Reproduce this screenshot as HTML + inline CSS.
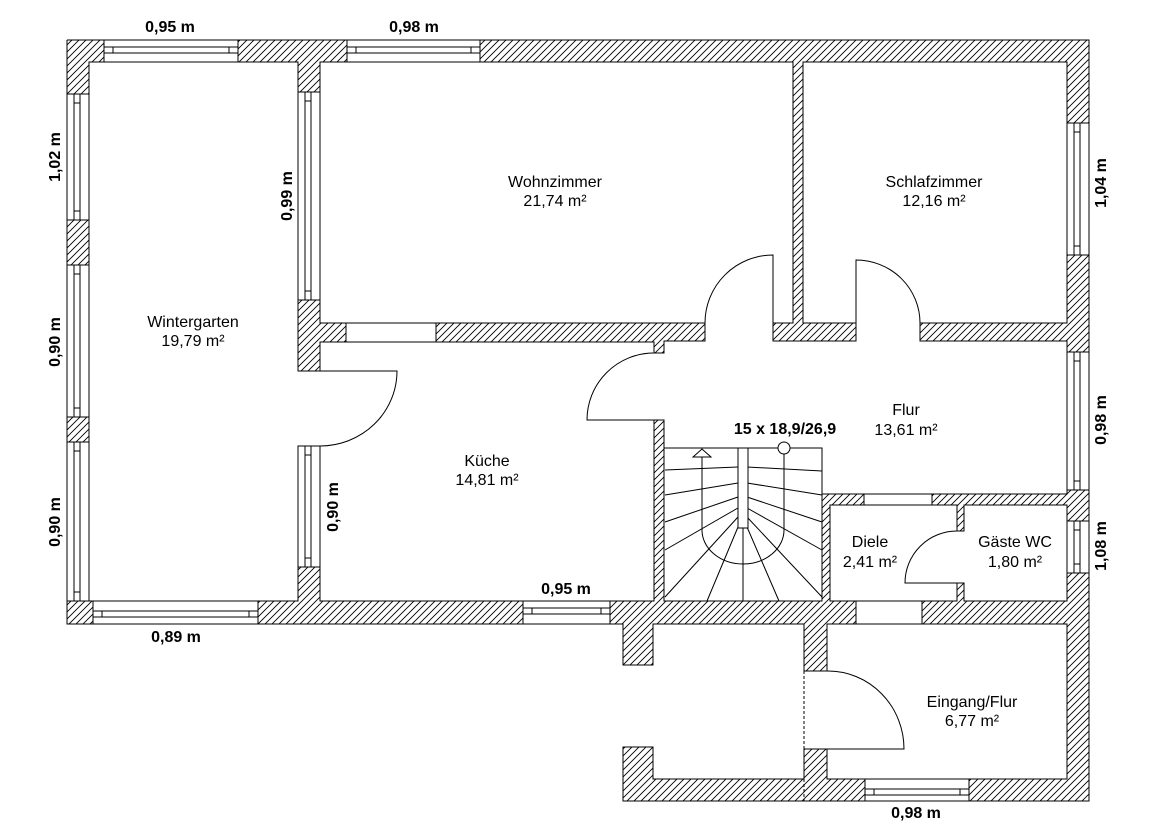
<!DOCTYPE html>
<html><head><meta charset="utf-8">
<style>
html,body{margin:0;padding:0;background:#fff;}
svg{display:block;}
.r{font-family:"Liberation Sans",sans-serif;font-size:16px;fill:#000;text-anchor:middle;}
.b{font-family:"Liberation Sans",sans-serif;font-size:16px;font-weight:bold;fill:#000;text-anchor:middle;}
</style></head>
<body>
<svg width="1154" height="828" viewBox="0 0 1154 828" xmlns="http://www.w3.org/2000/svg">
<defs>
<pattern id="h" patternUnits="userSpaceOnUse" width="7" height="7">
<path d="M-1,1 l2,-2 M0,7 l7,-7 M6,8 l2,-2" stroke="#000" stroke-width="0.9"/>
</pattern>
</defs>
<rect width="1154" height="828" fill="#fff"/>
<rect x="67" y="40" width="1022" height="584" fill="url(#h)"/>
<rect x="623" y="624" width="466" height="177" fill="url(#h)"/>
<rect x="653" y="624" width="151" height="155" fill="#fff"/>
<rect x="623" y="665" width="31" height="82" fill="#fff"/>

<g fill="#fff" stroke="#000" stroke-width="1" shape-rendering="crispEdges">
<rect x="89" y="62" width="209" height="539"/>
<rect x="320" y="62" width="473" height="261"/>
<rect x="803" y="62" width="264" height="261"/>
<rect x="320" y="342" width="334" height="259"/>
<path d="M664,341 H1067 V494 H822 V448 H664 Z"/>
<rect x="664" y="448" width="158" height="153"/>
<rect x="830" y="505" width="127" height="96"/>
<rect x="964" y="505" width="103" height="96"/>
<rect x="827" y="624" width="240" height="155"/>
</g>

<g fill="#fff" stroke="none">
<rect x="297" y="371.5" width="24" height="74"/>
<rect x="653" y="353.5" width="12" height="66"/>
<rect x="705.5" y="322" width="67" height="20"/>
<rect x="856.5" y="322" width="63" height="20"/>
<rect x="956" y="531.5" width="9" height="51"/>
<rect x="803" y="671.5" width="25" height="77"/>
</g>
<g stroke="#000" stroke-width="1" fill="none" shape-rendering="crispEdges">
<path d="M298,371H320 M298,446H320 M654,353H664 M654,420H664 M705,323V341 M773,323V341 M856,323V341 M920,323V341 M957,531H964 M957,583H964 M804,671H827 M804,749H827"/>
<path d="M804,671V749 M804,779V801" stroke-dasharray="3,2"/>
<rect x="346" y="323" width="90" height="19" fill="#fff"/>
<rect x="864" y="494" width="68" height="11" fill="#fff"/>
<rect x="856" y="601" width="66" height="23" fill="#fff"/>
</g>

<g stroke="#000" stroke-width="1" fill="#fff" shape-rendering="crispEdges">
<rect x="104" y="40" width="134" height="22"/><path d="M104,47H238 M104,53H238 M113,47V53 M229,47V53" fill="none"/>
<rect x="347" y="40" width="133" height="22"/><path d="M347,47H480 M347,53H480 M356,47V53 M471,47V53" fill="none"/>
<rect x="93" y="601" width="165" height="23"/><path d="M93,611H258 M93,617H258 M102,611V617 M249,611V617" fill="none"/>
<rect x="523" y="601" width="87" height="23"/><path d="M523,608H610 M523,614H610 M532,608V614 M601,608V614" fill="none"/>
<rect x="865" y="779" width="104" height="22"/><path d="M865,789H969 M865,795H969 M874,789V795 M960,789V795" fill="none"/>
<rect x="67" y="94" width="22" height="126"/><path d="M74,94V220 M80,94V220 M74,103H80 M74,211H80" fill="none"/>
<rect x="67" y="265" width="22" height="152"/><path d="M74,265V417 M80,265V417 M74,274H80 M74,408H80" fill="none"/>
<rect x="67" y="442" width="22" height="159"/><path d="M74,442V601 M80,442V601 M74,451H80 M74,592H80" fill="none"/>
<rect x="298" y="92" width="22" height="208"/><path d="M305,92V300 M311,92V300 M305,101H311 M305,291H311" fill="none"/>
<rect x="298" y="446" width="22" height="121"/><path d="M305,446V567 M311,446V567 M305,455H311 M305,558H311" fill="none"/>
<rect x="1067" y="123" width="22" height="132"/><path d="M1074,123V255 M1080,123V255 M1074,132H1080 M1074,246H1080" fill="none"/>
<rect x="1067" y="352" width="22" height="138"/><path d="M1074,352V490 M1080,352V490 M1074,361H1080 M1074,481H1080" fill="none"/>
<rect x="1067" y="521" width="22" height="52"/><path d="M1074,521V573 M1080,521V573 M1074,530H1080 M1074,564H1080" fill="none"/>
</g>

<g stroke="#000" stroke-width="1" fill="none">
<path d="M298,371H397 A77,75 0 0 1 320,446"/>
<path d="M654,353 A67,67 0 0 0 587,420 H654"/>
<path d="M773,323V255 A68,68 0 0 0 705,323"/>
<path d="M856,323V260 A64,63 0 0 1 920,323"/>
<path d="M957,583H905 A52,52 0 0 1 957,531"/>
<path d="M804,671H828 A76,78 0 0 1 904,749 H804"/>
</g>

<g stroke="#000" stroke-width="1" fill="none">
<path d="M665,470L738,467 M665,495L738,483 M665,522L738,497 M665,550L738,508 M665,597L738,517 M707,601L738,527 M743,527V601 M747,467L822,471 M747,483L822,495 M747,497L822,522 M747,508L822,550 M747,517L822,597 M747,527L779,601"/>
<path d="M702,457V530 A41,34 0 0 0 784,530 V454"/>
<rect x="738" y="448" width="10" height="80" fill="#fff"/>
<polygon points="693,457 711,457 702,449" fill="#fff"/>
<circle cx="784" cy="448" r="6" fill="#fff"/>
</g>

<g stroke="#000" stroke-width="1" fill="none" shape-rendering="crispEdges">
<path d="M67,40H1089V801H623V747H653V779H804V749"/>
<path d="M804,671V624H653V665H623V624H67V40"/>
</g>

<text class="r" x="555" y="187">Wohnzimmer</text><text class="r" x="555" y="206">21,74 m²</text>
<text class="r" x="934" y="187">Schlafzimmer</text><text class="r" x="934" y="206">12,16 m²</text>
<text class="r" x="193" y="327">Wintergarten</text><text class="r" x="193" y="346">19,79 m²</text>
<text class="r" x="487" y="466">Küche</text><text class="r" x="487" y="485">14,81 m²</text>
<text class="r" x="906" y="415">Flur</text><text class="r" x="906" y="435">13,61 m²</text>
<text class="r" x="870" y="547">Diele</text><text class="r" x="870" y="567">2,41 m²</text>
<text class="r" x="1015" y="547">Gäste WC</text><text class="r" x="1015" y="567">1,80 m²</text>
<text class="r" x="972" y="707">Eingang/Flur</text><text class="r" x="972" y="726">6,77 m²</text>
<text class="b" x="785" y="434">15 x 18,9/26,9</text>

<text class="b" x="170" y="32">0,95 m</text>
<text class="b" x="414" y="32">0,98 m</text>
<text class="b" x="176" y="642">0,89 m</text>
<text class="b" x="566" y="594">0,95 m</text>
<text class="b" x="916" y="818">0,98 m</text>
<text class="b" transform="translate(60,157) rotate(-90)">1,02 m</text>
<text class="b" transform="translate(60,342) rotate(-90)">0,90 m</text>
<text class="b" transform="translate(60,522) rotate(-90)">0,90 m</text>
<text class="b" transform="translate(292,196) rotate(-90)">0,99 m</text>
<text class="b" transform="translate(338,507) rotate(-90)">0,90 m</text>
<text class="b" transform="translate(1106,183) rotate(-90)">1,04 m</text>
<text class="b" transform="translate(1106,420) rotate(-90)">0,98 m</text>
<text class="b" transform="translate(1106,546) rotate(-90)">1,08 m</text>
</svg>
</body></html>
